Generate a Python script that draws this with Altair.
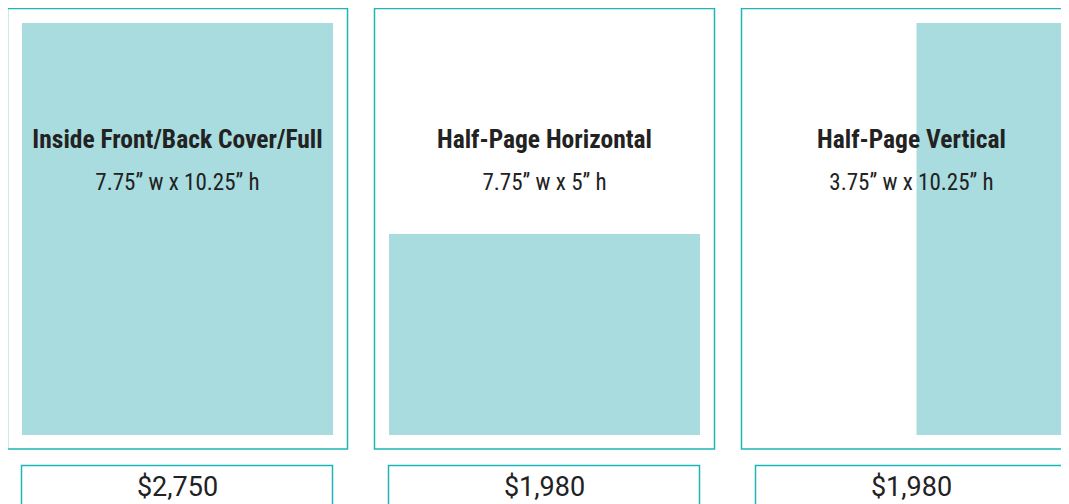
import altair as alt
import pandas as pd

# ---- data ----
titles = ["Inside Front/Back Cover/Full", "Half-Page Horizontal", "Half-Page Vertical"]
dims = ["7.75\u201d w x 10.25\u201d h", "7.75\u201d w x 5\u201d h", "3.75\u201d w x 10.25\u201d h"]
ad_w_in = [7.75, 7.75, 3.75]
ad_h_in = [10.25, 5.0, 10.25]
prices = ["$2,750", "$1,980", "$1,980"]
page_w_in = 7.75
page_h_in = 10.25

# ---- layout (page pixel coordinates) ----
W, H = 1053, 496
OX, OY = 8, 8
step = 367
panel_x0, panel_w, panel_y0, panel_y1 = 7.5, 340, 8.5, 449
inner_x0, inner_w, inner_y0, inner_y1 = 22, 311, 23, 435
box_x0, box_y0, box_y1 = 21.5, 465.5, 530

rows = []
for i in range(3):
    dx = i * step
    aw = inner_w * ad_w_in[i] / page_w_in
    ah = (inner_y1 - inner_y0) * ad_h_in[i] / page_h_in
    rows.append(dict(
        title=titles[i], dim=dims[i], price=prices[i],
        px0=panel_x0 + dx, px1=panel_x0 + dx + panel_w, py0=panel_y0, py1=panel_y1,
        fx0=inner_x0 + dx + inner_w - aw, fx1=inner_x0 + dx + inner_w,
        fy0=inner_y1 - ah, fy1=inner_y1,
        bx0=box_x0 + dx, bx1=box_x0 + dx + inner_w, by0=box_y0, by1=box_y1,
        cx=panel_x0 + dx + panel_w / 2, ty=148, dy=190, pry=496,
    ))
df = pd.DataFrame(rows)

xs = alt.Scale(domain=[OX, OX + W], range=[0, W])
ys = alt.Scale(domain=[OY, OY + H], range=[0, H])
X = lambda f: alt.X(f, type="quantitative", scale=xs, axis=None)
Y = lambda f: alt.Y(f, type="quantitative", scale=ys, axis=None)

TEAL = "#1db5b8"
FILL = "#a9dcdf"
INK = "#222222"

base = alt.Chart(df)
panels = base.mark_rect(filled=False, stroke=TEAL, strokeWidth=1.5, clip=True).encode(
    x=X("px0"), x2="px1", y=Y("py0"), y2="py1")
fills = base.mark_rect(fill=FILL, clip=True).encode(
    x=X("fx0"), x2="fx1", y=Y("fy0"), y2="fy1")
boxes = base.mark_rect(filled=False, stroke=TEAL, strokeWidth=1.5, clip=True).encode(
    x=X("bx0"), x2="bx1", y=Y("by0"), y2="by1")
cond = "Roboto Condensed, Liberation Sans Narrow, DejaVu Sans Condensed, Roboto"
t1 = base.mark_text(font=cond, fontSize=25.5, fontWeight="bold", color=INK, baseline="alphabetic").encode(
    x=X("cx"), y=Y("ty"), text="title:N")
t2 = base.mark_text(font=cond, fontSize=23, color=INK, baseline="alphabetic").encode(
    x=X("cx"), y=Y("dy"), text="dim:N")
t3 = base.mark_text(font="Roboto", fontSize=27, color=INK, baseline="alphabetic").encode(
    x=X("cx"), y=Y("pry"), text="price:N")

chart = alt.layer(panels, fills, boxes, t1, t2, t3).properties(
    width=W, height=H, padding=0, autosize=alt.AutoSizeParams(type="none"),
).configure_view(stroke=None)

chart.save("out.html", embed_options={"renderer": "svg", "actions": False})
